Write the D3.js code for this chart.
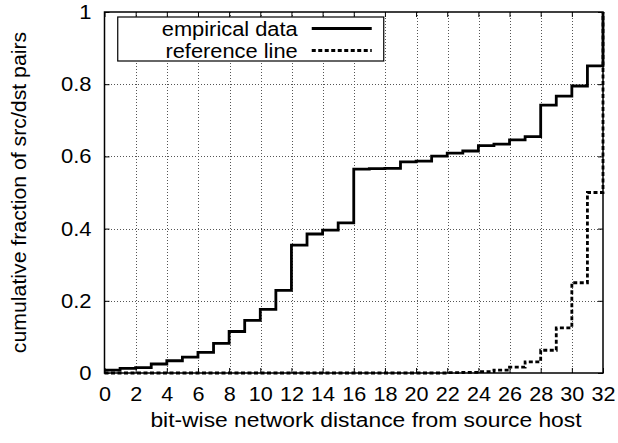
<!DOCTYPE html>
<meta charset="utf-8">
<style>
body { margin: 0; background: #fff; }
svg { background-color: #fff; }
text { font-family: "Liberation Sans", Arial, Helvetica, sans-serif; fill: #000; }
.grid line { stroke: #555; stroke-width: 1; stroke-dasharray: 1,2; shape-rendering: crispEdges; }
</style>
<svg width="618" height="443"></svg>
<script src="https://d3js.org/d3.v7.min.js"></script>
<script>

// bit-wise distance 0..32
var distances = d3.range(0, 33);

// cumulative fraction, value holds from d to d+1
var empirical = [0.008, 0.013, 0.015, 0.025, 0.034, 0.044, 0.057, 0.082, 0.115, 0.146,
                 0.176, 0.229, 0.354, 0.385, 0.396, 0.416, 0.565, 0.566, 0.567, 0.585,
                 0.587, 0.601, 0.609, 0.615, 0.630, 0.634, 0.646, 0.655, 0.742, 0.767,
                 0.795, 0.851, 1.0];

var reference = [0, 0, 0, 0, 0, 0, 0, 0, 0, 0,
                 0, 0, 0, 0, 0, 0, 0, 0, 0, 0,
                 0, 0, 0.001, 0.002, 0.004, 0.008, 0.016, 0.031, 0.063, 0.125,
                 0.25, 0.5, 1.0];

var xTicks = d3.range(0, 33, 2);
var yTicks = [0, 0.2, 0.4, 0.6, 0.8, 1];
var seriesNames = ["empirical data", "reference line"];

var svg = d3.select("svg"),
    margin = {top: 12, right: 15, bottom: 70, left: 104.5},
    width = svg.attr("width") - margin.left - margin.right,
    height = svg.attr("height") - margin.top - margin.bottom;

var x = d3.scaleLinear().domain([0, 32]).range([0, width]);
var y = d3.scaleLinear().domain([0, 1]).range([height, 0]);

// the original font runs a bit wider than Liberation Sans
function widen(sel, k) {
  sel.each(function() {
    d3.select(this)
      .attr("textLength", this.getComputedTextLength() * k)
      .attr("lengthAdjust", "spacingAndGlyphs");
  });
}

var g = svg.append("g")
    .attr("transform", "translate(" + margin.left + "," + margin.top + ")");

// grid
var grid = g.append("g").attr("class", "grid");
grid.selectAll(".vx").data(xTicks.filter(function(d) { return d > 0 && d < 32; }))
  .enter().append("line")
    .attr("x1", function(d) { return Math.round(x(d)) + 0.5; })
    .attr("x2", function(d) { return Math.round(x(d)) + 0.5; })
    .attr("y1", 0).attr("y2", height);
grid.selectAll(".hy").data(yTicks.filter(function(d) { return d > 0 && d < 1; }))
  .enter().append("line")
    .attr("y1", function(d) { return Math.round(y(d)) + 0.5; })
    .attr("y2", function(d) { return Math.round(y(d)) + 0.5; })
    .attr("x1", 0).attr("x2", width);

// inward ticks, mirrored like gnuplot
g.append("g")
    .attr("transform", "translate(0," + height + ")")
    .call(d3.axisBottom(x).tickValues(xTicks).tickSize(-5).tickPadding(14).tickFormat(d3.format("d")))
    .call(function(a) {
      a.select(".domain").remove();
      a.selectAll("text").attr("font-size", 20).attr("font-family", null).call(widen, 1.08);
    });
g.append("g")
    .call(d3.axisTop(x).tickValues(xTicks).tickSize(-5).tickFormat(""))
    .call(function(a) { a.select(".domain").remove(); });
g.append("g")
    .call(d3.axisLeft(y).tickValues(yTicks).tickSize(-5).tickPadding(13).tickFormat(function(d) { return d3.format("")(d); }))
    .call(function(a) {
      a.select(".domain").remove();
      a.selectAll("text").attr("font-size", 20).attr("font-family", null).call(widen, 1.1);
    });
g.append("g")
    .attr("transform", "translate(" + width + ",0)")
    .call(d3.axisRight(y).tickValues(yTicks).tickSize(-5).tickFormat(""))
    .call(function(a) { a.select(".domain").remove(); });

// lines
var line = d3.line()
    .x(function(d) { return x(d[0]); })
    .y(function(d) { return y(d[1]); })
    .curve(d3.curveStepAfter);

g.append("path")
    .datum(distances.map(function(d, i) { return [d, reference[i]]; }))
    .attr("fill", "none")
    .attr("stroke", "#000")
    .attr("stroke-width", 2.8)
    .attr("stroke-dasharray", "4,2.5")
    .attr("d", line);

g.append("path")
    .datum(distances.map(function(d, i) { return [d, empirical[i]]; }))
    .attr("fill", "none")
    .attr("stroke", "#000")
    .attr("stroke-width", 2.8)
    .attr("d", line);

// border
g.append("rect")
    .attr("width", width).attr("height", height)
    .attr("fill", "none").attr("stroke", "#000").attr("stroke-width", 1.5);

// legend
var legend = g.append("g").attr("transform", "translate(" + x(0.85) + "," + 5 + ")");
legend.append("rect")
    .attr("width", 266).attr("height", 44)
    .attr("fill", "#fff").attr("stroke", "#000").attr("stroke-width", 1.2);
seriesNames.forEach(function(name, i) {
  var ly = 11.5 + i * 22;
  legend.append("text")
      .attr("x", 180).attr("y", ly + 7)
      .attr("text-anchor", "end")
      .attr("font-size", 19.5)
      .text(name)
      .call(widen, 1.12);
  legend.append("line")
      .attr("x1", 194).attr("x2", 254)
      .attr("y1", ly).attr("y2", ly)
      .attr("stroke", "#000").attr("stroke-width", 2.8)
      .attr("stroke-dasharray", i == 1 ? "4,2.5" : null);
});

// axis labels
svg.append("text")
    .attr("x", 366).attr("y", 427)
    .attr("text-anchor", "middle")
    .attr("font-size", 19.5)
    .text("bit-wise network distance from source host")
    .call(widen, 1.17);

svg.append("text")
    .attr("transform", "translate(26," + (margin.top + height / 2) + ") rotate(-90)")
    .attr("text-anchor", "middle")
    .attr("font-size", 19.5)
    .text("cumulative fraction of src/dst pairs")
    .call(widen, 1.09);

</script>
